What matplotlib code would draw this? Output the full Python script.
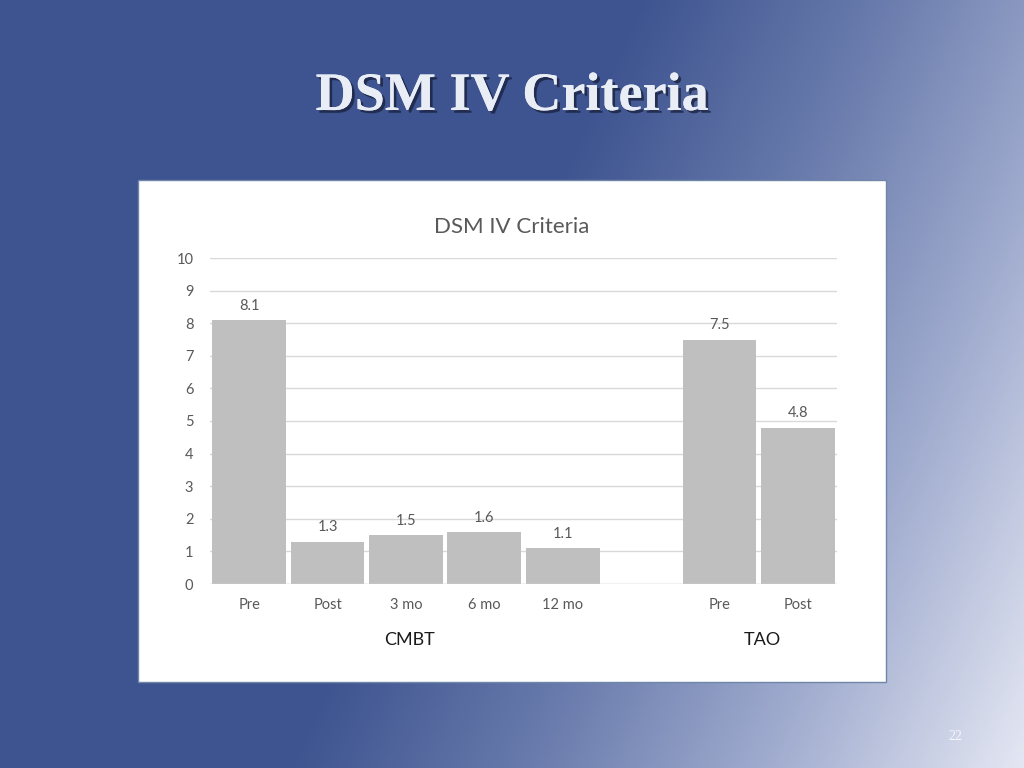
import numpy as np
import matplotlib.pyplot as plt
import matplotlib.patheffects as pe
from matplotlib.colors import LinearSegmentedColormap
from matplotlib.patches import Rectangle

# Données du graphique
categories = ["Pre", "Post", "3 mo", "6 mo", "12 mo", "", "Pre", "Post"]
valeurs = [8.1, 1.3, 1.5, 1.6, 1.1, None, 7.5, 4.8]
groupes = ["CMBT", "TAO"]
groupe_slots = [[0, 1, 2, 3, 4], [6, 7]]
titre_diapo = "DSM IV Criteria"
titre_graphe = "DSM IV Criteria"
num_page = "22"

W, H = 1024, 768
fig = plt.figure(figsize=(W / 100, H / 100), dpi=100)

# Fond en dégradé (bleu foncé -> clair en bas à droite)
bg = fig.add_axes([0, 0, 1, 1])
xx, yy = np.meshgrid(np.arange(W), np.arange(H))
t = np.clip((xx - 640 + yy * 0.46) / 740.0, 0, 1)
cmap_bg = LinearSegmentedColormap.from_list(
    "bg", ["#3e5490", "#6a7cad", "#a3aed0", "#e4e7f3"])
bg.imshow(t, cmap=cmap_bg, extent=[0, W, H, 0], aspect="auto")
bg.set_xlim(0, W)
bg.set_ylim(H, 0)
bg.axis("off")

# Titre de la diapo
bg.text(512, 97, titre_diapo, ha="center", va="center", fontsize=39,
        family="Liberation Serif", fontweight="bold", color="#e9edf5",
        path_effects=[pe.withSimplePatchShadow(offset=(2, -2), shadow_rgbFace="#1a2340", alpha=0.8),
                      pe.Normal()])

# Panneau blanc du graphique
bg.add_patch(Rectangle((138, 180), 748, 502, facecolor="white",
                       edgecolor="#6f86a8", linewidth=1.0))

# Numéro de page
bg.text(955, 736, num_page, ha="center", va="center", fontsize=10,
        color="#f4f6fb", family="Liberation Serif")

# Axe du graphique
ax = fig.add_axes([210 / W, 1 - 584 / H, 627 / W, 326 / H])
ax.set_facecolor("none")
x = np.arange(len(categories))
for i, v in enumerate(valeurs):
    if v is None:
        continue
    ax.bar(x[i], v, width=0.94, color="#bfbfbf", zorder=3)
    ax.text(x[i], v + 0.22, f"{v:.1f}", ha="center", va="bottom",
            fontsize=10.5, color="#595959", family="Lato")

ax.set_xlim(-0.5, len(categories) - 0.5)
ax.set_ylim(0, 10)
ax.set_yticks(range(0, 11))
ax.yaxis.grid(True, color="#d9d9d9", linewidth=1, zorder=0)
ax.set_xticks(x)
ax.set_xticklabels(categories)
ax.tick_params(axis="x", length=0, labelsize=10.5, labelcolor="#595959", pad=10)
ax.tick_params(axis="y", length=0, labelsize=10.5, labelcolor="#595959", pad=12)
for lab in ax.get_xticklabels() + ax.get_yticklabels():
    lab.set_family("Lato")
for s in ax.spines.values():
    s.set_visible(False)
ax.axhline(0, color="#d9d9d9", linewidth=1, zorder=4)

# Étiquettes des groupes
for nom, slots in zip(groupes, groupe_slots):
    cx = np.mean([x[s] for s in slots]) + 0.05
    ax.text(cx, -1.72, nom, ha="center", va="center", fontsize=13,
            color="#1a1a1a", family="Lato")

# Titre du graphique
ax.text(x.mean() - 0.15, 10.95, titre_graphe, ha="center", va="center",
        fontsize=16, color="#595959", family="Lato")

fig.savefig("out.png", dpi=100)
